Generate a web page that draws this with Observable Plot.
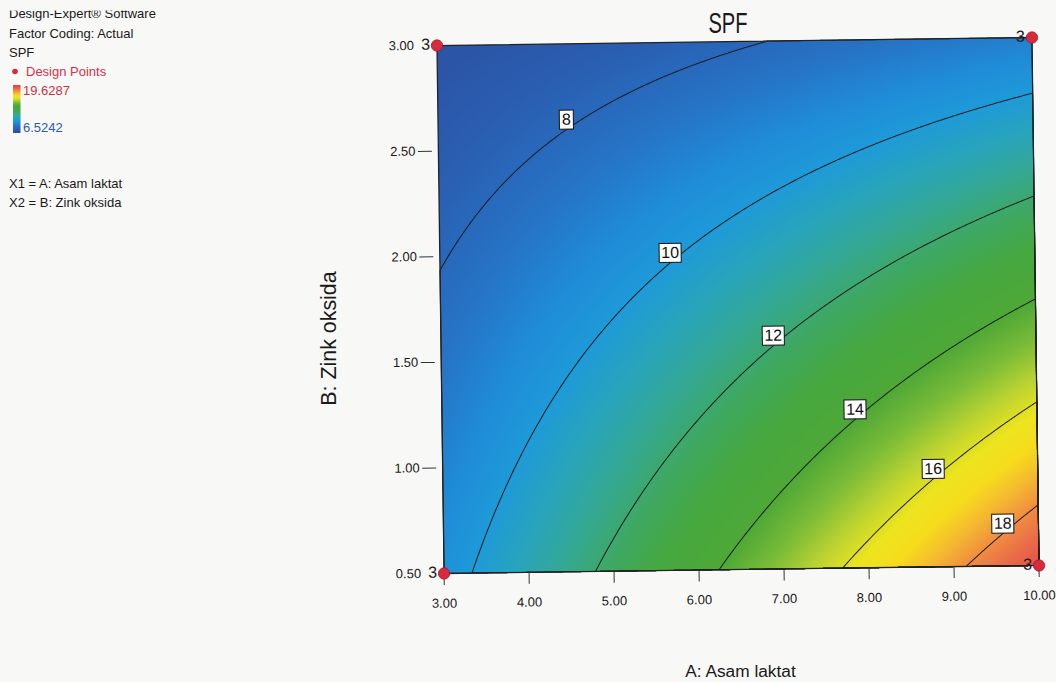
<!DOCTYPE html>
<html>
<head>
<meta charset="utf-8">
<script src="https://cdn.jsdelivr.net/npm/d3@7"></script>
<script src="https://cdn.jsdelivr.net/npm/@observablehq/plot@0.6"></script>
<style>
  body { margin: 0; background: #f8f8f7; }
  #wrap { position: relative; width: 1056px; height: 682px; overflow: hidden; }
  #wrap svg { position: absolute; left: 0; top: 0; }
</style>
</head>
<body>
<div id="wrap"></div>
<script>
// ---- data ----
const factorA = [3, 10];            // A: Asam laktat (low, high)
const factorB = [0.5, 3];           // B: Zink oksida (low, high)
const spfAtLowB = [9.55, 19.18];    // SPF at B = 0.50 for A = 3, 10
const spfAtHighB = [6.85, 8.92];    // SPF at B = 3.00 for A = 3, 10
const spfMin = 6.5242, spfMax = 19.6287;

const designA = [3, 10, 3, 10];
const designB = [0.5, 0.5, 3, 3];
const designReps = [3, 3, 3, 3];

const contourLevels = [8, 10, 12, 14, 16, 18];
const contourLabelA = [4.51, 5.71, 6.91, 7.86, 8.77, 9.58];

const xTicks = [3, 4, 5, 6, 7, 8, 9, 10];
const yTicks = [0.5, 1, 1.5, 2, 2.5, 3];

const rampStops  = [6.5242, 7.5, 8.5, 9.3, 10.0, 10.7, 11.4, 12.2, 13.0, 14.0, 14.8, 15.5, 16.2, 16.8, 17.4, 18.0, 18.7, 19.6287];
const rampColors = ["#2c4f9e", "#2a5db0", "#2674c6", "#1f8cd8", "#1e9ad8", "#28a4bc", "#34a896", "#3ea862", "#46a840", "#4ea836", "#7cbc38", "#b8d232", "#ece41e", "#f6dc1c", "#f4b830", "#f08c40", "#e8664a", "#de3c46"];

// ---- helpers ----
const ramp = d3.scaleLinear().domain(rampStops).range(rampColors).interpolate(d3.interpolateRgb).clamp(true);

function spfAt(a, b) {
  const s = (a - factorA[0]) / (factorA[1] - factorA[0]);
  const t = (b - factorB[0]) / (factorB[1] - factorB[0]);
  const lo = spfAtLowB[0] + (spfAtLowB[1] - spfAtLowB[0]) * s;
  const hi = spfAtHighB[0] + (spfAtHighB[1] - spfAtHighB[0]) * s;
  return lo + (hi - lo) * t;
}
function bOnContour(level, a) {
  const s = (a - factorA[0]) / (factorA[1] - factorA[0]);
  const lo = spfAtLowB[0] + (spfAtLowB[1] - spfAtLowB[0]) * s;
  const hi = spfAtHighB[0] + (spfAtHighB[1] - spfAtHighB[0]) * s;
  const t = (level - lo) / (hi - lo);
  return factorB[0] + t * (factorB[1] - factorB[0]);
}

const labelRows = contourLevels.map((lv, i) => ({level: lv, a: contourLabelA[i], b: bOnContour(lv, contourLabelA[i])}));
const designRows = designA.map((a, i) => ({a, b: designB[i], n: designReps[i]}));

const box1 = {draw(ctx) { ctx.rect(-7, -9.5, 14, 19); }};
const box2 = {draw(ctx) { ctx.rect(-11, -9.5, 22, 19); }};

const font = "Liberation Sans, Arial, sans-serif";
const fmt2 = d3.format(".2f");

const chart = Plot.plot({
  width: 1056,
  height: 682,
  marginLeft: 440,
  marginRight: 21,
  marginTop: 41,
  marginBottom: 113,
  x: {domain: factorA},
  y: {domain: factorB},
  color: {type: "linear", domain: [spfMin, spfMax], interpolate: t => ramp(spfMin + t * (spfMax - spfMin))},
  style: {background: "transparent", fontFamily: font, color: "#1a1a1a"},
  marks: [
    Plot.raster({fill: spfAt, x1: factorA[0], x2: factorA[1], y1: factorB[0], y2: factorB[1], pixelSize: 1}),
    Plot.contour({value: spfAt, x1: factorA[0], x2: factorA[1], y1: factorB[0], y2: factorB[1], thresholds: contourLevels, fill: "none", stroke: "#1c1c1c", strokeWidth: 1, pixelSize: 1}),
    Plot.frame({stroke: "#222", strokeWidth: 1.3}),
    Plot.axisX({ticks: xTicks, tickFormat: fmt2, tickSize: 12, tickPadding: 13, fontSize: 13, label: null, stroke: "#333"}),
    Plot.axisY({ticks: yTicks, tickFormat: fmt2, tickSize: 0, tickPadding: 17, dx: -6, fontSize: 13, label: null}),
    Plot.axisY({ticks: yTicks.slice(1, -1), tickFormat: () => "", tickSize: 14, dx: -6, label: null, stroke: "#333"}),
    Plot.dot(labelRows.filter(d => String(d.level).length === 1), {x: "a", y: "b", dy: -10, symbol: box1, fill: "white", stroke: "#111", strokeWidth: 1}),
    Plot.dot(labelRows.filter(d => String(d.level).length === 2), {x: "a", y: "b", dy: -10, symbol: box2, fill: "white", stroke: "#111", strokeWidth: 1}),
    Plot.text(labelRows, {x: "a", y: "b", dy: -10, text: d => String(d.level), fontSize: 16, fill: "#111", letterSpacing: "-0.5px"}),
    Plot.dot(designRows, {x: "a", y: "b", r: 5.7, fill: "#d82a3c", stroke: "#9c1a26", strokeWidth: 0.8}),
    Plot.text(designRows, {x: "a", y: "b", text: d => String(d.n), dx: -7, dy: -1, textAnchor: "end", fontSize: 16, fill: "#1a1a1a"})
  ]
});
chart.style.transformOrigin = "737.75px 305px";
chart.style.transform = "rotate(-0.77deg)";
document.getElementById("wrap").appendChild(chart);

// ---- annotations (title, axis titles, info panel) ----
const ov = d3.create("svg").attr("width", 1056).attr("height", 682)
  .style("font-family", font).style("pointer-events", "none");

ov.append("text").attr("transform", "translate(728,33) scale(0.67,1)")
  .attr("text-anchor", "middle").attr("font-size", 30).attr("fill", "#1a1a1a").text("SPF");
ov.append("text").attr("x", 740.5).attr("y", 677).attr("text-anchor", "middle")
  .attr("font-size", 17.3).attr("fill", "#1a1a1a").text("A: Asam laktat");
ov.append("text").attr("transform", "translate(336,338.5) rotate(-90)").attr("text-anchor", "middle")
  .attr("font-size", 21.4).attr("fill", "#1a1a1a").text("B: Zink oksida");

const info = [
  {text: "Factor Coding: Actual", y: 38.3},
  {text: "SPF", y: 57.3},
  {text: "X1 = A: Asam laktat", y: 188},
  {text: "X2 = B: Zink oksida", y: 207}
];
ov.append("clipPath").attr("id", "topclip").append("rect").attr("x", 0).attr("y", 10.5).attr("width", 300).attr("height", 20);
ov.append("text").attr("x", 9).attr("y", 18.3).attr("font-size", 13).attr("fill", "#1a1a1a")
  .attr("clip-path", "url(#topclip)").text("Design-Expert\u00ae Software");
for (const d of info) {
  ov.append("text").attr("x", 9).attr("y", d.y).attr("font-size", 13).attr("fill", "#1a1a1a").text(d.text);
}
ov.append("circle").attr("cx", 15).attr("cy", 71.5).attr("r", 2.8).attr("fill", "#d82a3c");
ov.append("text").attr("x", 26).attr("y", 75.5).attr("font-size", 13).attr("fill", "#d8304c").text("Design Points");

const grad = ov.append("defs").append("linearGradient").attr("id", "legendRamp")
  .attr("x1", 0).attr("x2", 0).attr("y1", 1).attr("y2", 0);
rampStops.forEach((s, i) => {
  grad.append("stop").attr("offset", (s - spfMin) / (spfMax - spfMin)).attr("stop-color", rampColors[i]);
});
ov.append("rect").attr("x", 13).attr("y", 85).attr("width", 7.5).attr("height", 48).attr("fill", "url(#legendRamp)");
ov.append("text").attr("x", 23).attr("y", 95).attr("font-size", 13).attr("fill", "#d0303e").text(spfMax.toFixed(4));
ov.append("text").attr("x", 23).attr("y", 131.7).attr("font-size", 13).attr("fill", "#2a5cb4").text(spfMin.toFixed(4));

document.getElementById("wrap").appendChild(ov.node());
</script>
</body>
</html>
